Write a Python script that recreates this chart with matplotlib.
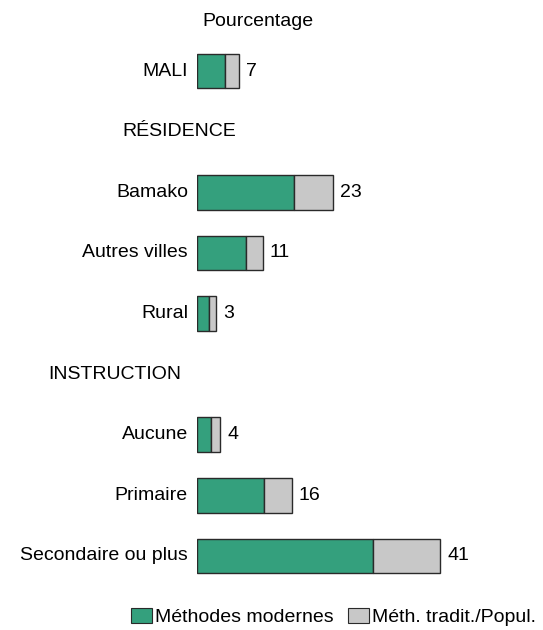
import matplotlib
matplotlib.use("Agg")
import matplotlib.pyplot as plt
from matplotlib.patches import Patch
from matplotlib.transforms import offset_copy

plt.rcParams['font.family'] = ['Liberation Sans', 'DejaVu Sans']

categories = ["MALI", "RÉSIDENCE", "Bamako", "Autres villes", "Rural",
              "INSTRUCTION", "Aucune", "Primaire", "Secondaire ou plus"]
is_header = [False, True, False, False, False, True, False, False, False]
modern = [4.7, 0, 16.3, 8.2, 2.1, 0, 2.4, 11.3, 29.7]
trad = [2.3, 0, 6.7, 2.9, 1.1, 0, 1.5, 4.7, 11.3]
totals = [7, None, 23, 11, 3, None, 4, 16, 41]
legend_labels = ["Méthodes modernes", "Méth. tradit./Popul."]
title = "Pourcentage"

GREEN = "#34a07d"
GRAY = "#c8c8c8"
EDGE = "#2a2a2a"

W, H = 543, 630
fig = plt.figure(figsize=(W / 100, H / 100), dpi=100)
ax_left, ax_right = 197, 497
ax_top, ax_bot = 40.7, 586.3
ax = fig.add_axes([ax_left / W, 1 - ax_bot / H, (ax_right - ax_left) / W, (ax_bot - ax_top) / H])
px_per_unit = 5.93
ax.set_xlim(0, (ax_right - ax_left) / px_per_unit)
ax.set_ylim(len(categories) - 0.5, -0.5)
ax.axis("off")

fs = 14
bh = 0.57
for i, cat in enumerate(categories):
    if is_header[i]:
        continue
    ax.barh(i, modern[i], height=bh, color=GREEN, edgecolor=EDGE, linewidth=1.0)
    ax.barh(i, trad[i], left=modern[i], height=bh, color=GRAY, edgecolor=EDGE, linewidth=1.0)
    tl = offset_copy(ax.transData, fig=fig, x=-9, y=0, units='dots')
    ax.text(0, i, cat, transform=tl, ha='right', va='center', fontsize=fs)
    tr = offset_copy(ax.transData, fig=fig, x=7, y=0, units='dots')
    ax.text(modern[i] + trad[i], i, str(totals[i]), transform=tr, ha='left', va='center', fontsize=fs)

header_x = {"RÉSIDENCE": 122, "INSTRUCTION": 48}
for i, cat in enumerate(categories):
    if is_header[i]:
        tl = offset_copy(ax.transData, fig=fig, x=header_x[cat] - ax_left, y=0, units='dots')
        ax.text(0, i, cat, transform=tl, ha='left', va='center', fontsize=fs)

fig.text(258 / W, 1 - 22 / H, title, ha='center', va='center', fontsize=fs)

handles = [Patch(facecolor=GREEN, edgecolor=EDGE, linewidth=0.8),
           Patch(facecolor=GRAY, edgecolor=EDGE, linewidth=0.8)]
fig.legend(handles, legend_labels, loc='center left', bbox_to_anchor=(131 / W, 1 - 617 / H),
           ncol=2, frameon=False, fontsize=fs, handlelength=1.1, handleheight=0.8,
           handletextpad=0.15, columnspacing=0.7, borderpad=0, borderaxespad=0)

fig.savefig("out.png", dpi=100)
